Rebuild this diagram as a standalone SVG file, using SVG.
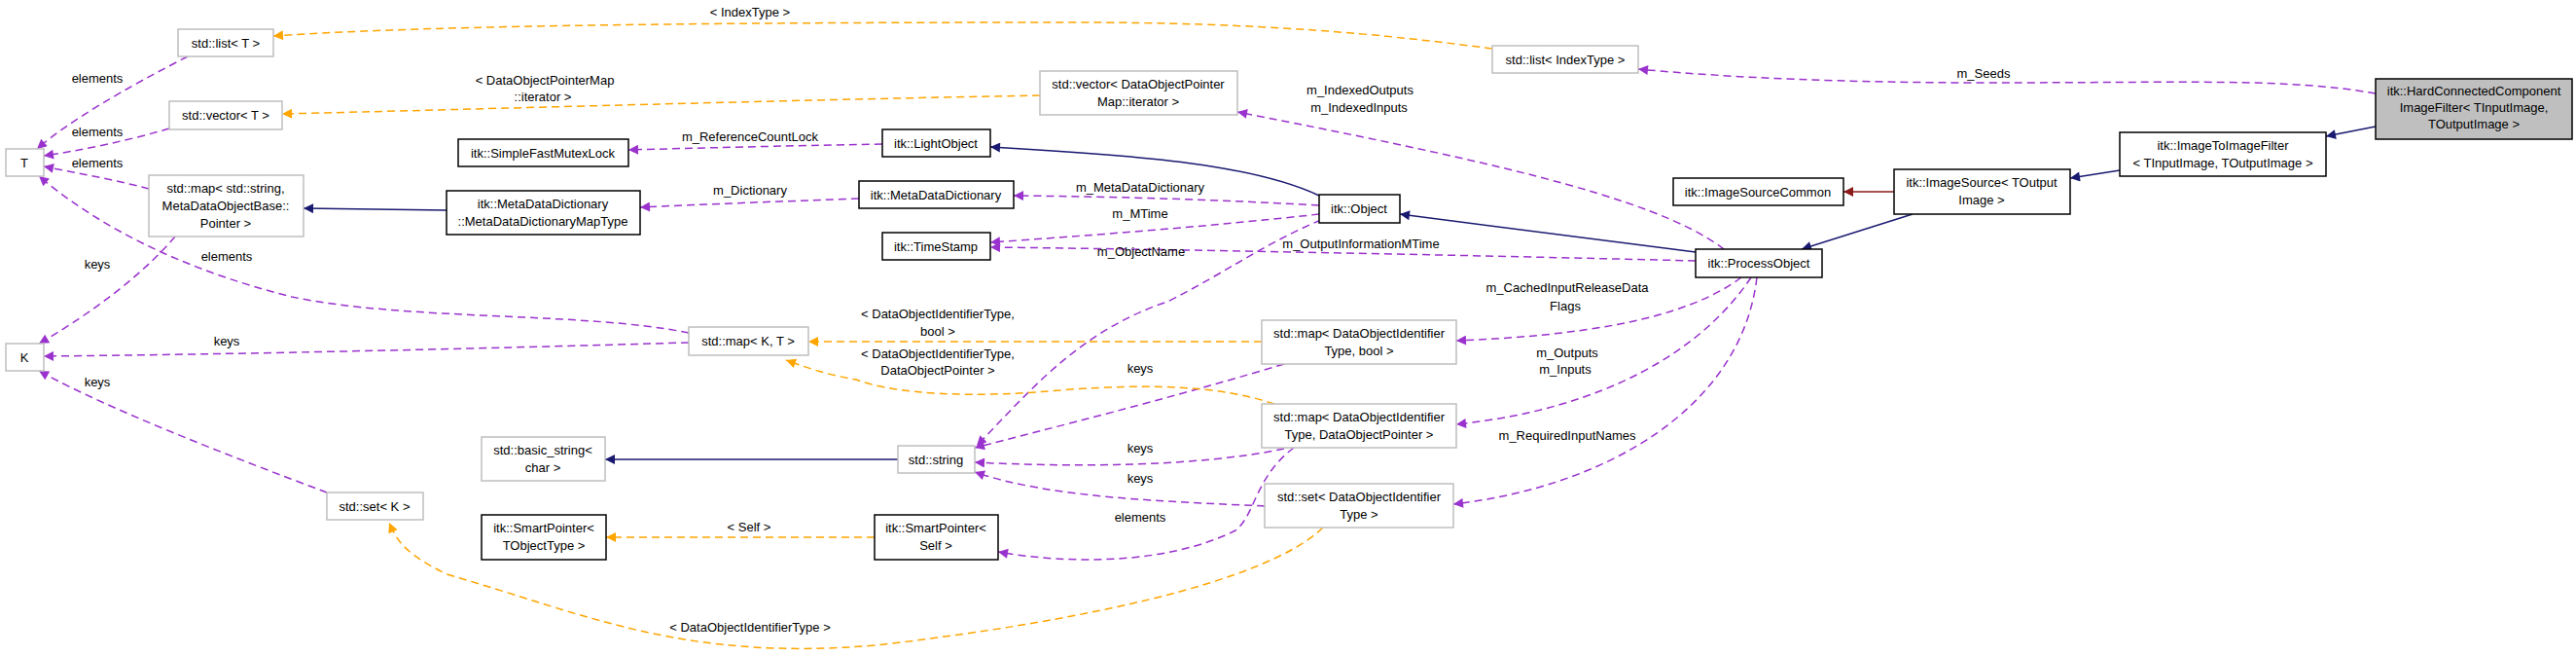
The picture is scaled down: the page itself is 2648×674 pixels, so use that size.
<svg xmlns="http://www.w3.org/2000/svg" width="2648" height="674" viewBox="0 0 2648 674">
<style>
text{font-family:"Liberation Sans",Arial,sans-serif;font-size:13px;fill:#000;text-anchor:middle}
.n{fill:#fff;stroke:#000;stroke-width:1.5}
.g{fill:#fff;stroke:#bfbfbf;stroke-width:1.5}
.h{fill:#bfbfbf;stroke:#000;stroke-width:1.5}
.e{fill:none;stroke-width:1.5}
.nv{stroke:#191970}
.rd{stroke:#8b1a1a}
.pu{stroke:#9a32cd;stroke-dasharray:8,5}
.or{stroke:#ffa500;stroke-dasharray:8,5}
</style>
<defs>
<marker id="anv" viewBox="0 0 10 10" refX="10" refY="5" markerWidth="14" markerHeight="10" markerUnits="userSpaceOnUse" orient="auto"><path d="M0,0L10,5L0,10z" fill="#191970"/></marker>
<marker id="ard" viewBox="0 0 10 10" refX="10" refY="5" markerWidth="14" markerHeight="10" markerUnits="userSpaceOnUse" orient="auto"><path d="M0,0L10,5L0,10z" fill="#8b1a1a"/></marker>
<marker id="apu" viewBox="0 0 10 10" refX="10" refY="5" markerWidth="14" markerHeight="10" markerUnits="userSpaceOnUse" orient="auto"><path d="M0,0L10,5L0,10z" fill="#9a32cd"/></marker>
<marker id="aor" viewBox="0 0 10 10" refX="10" refY="5" markerWidth="14" markerHeight="10" markerUnits="userSpaceOnUse" orient="auto"><path d="M0,0L10,5L0,10z" fill="#ffa500"/></marker>
</defs>
<rect width="2648" height="674" fill="#fff"/>
<g id="edges">
<path class="e nv" marker-end="url(#anv)" d="M2442,130L2391,140"/>
<path class="e nv" marker-end="url(#anv)" d="M2179,175L2128,183"/>
<path class="e rd" marker-end="url(#ard)" d="M1947,197L1895,197"/>
<path class="e nv" marker-end="url(#anv)" d="M1966,220L1852,256"/>
<path class="e nv" marker-end="url(#anv)" d="M1743,259L1439,220"/>
<path class="e nv" marker-end="url(#anv)" d="M1356,201C1290,170 1180,160 1018,151"/>
<path class="e nv" marker-end="url(#anv)" d="M459,216L312,214"/>
<path class="e nv" marker-end="url(#anv)" d="M923,472L622,472"/>
<path class="e pu" marker-end="url(#apu)" d="M2442,96C2350,80 2250,85 2040,85C1900,85 1780,80 1684,71"/>
<path class="e pu" marker-end="url(#apu)" d="M1356,211C1250,205 1150,202 1042,201"/>
<path class="e pu" marker-end="url(#apu)" d="M1356,220C1250,232 1120,242 1018,249"/>
<path class="e pu" marker-end="url(#apu)" d="M1743,268C1500,262 1200,256 1018,254"/>
<path class="e pu" marker-end="url(#apu)" d="M1358,226C1300,250 1260,280 1200,310C1110,340 1060,400 1004,458"/>
<path class="e pu" marker-end="url(#apu)" d="M1772,256C1700,200 1500,160 1272,115"/>
<path class="e pu" marker-end="url(#apu)" d="M1790,285C1730,330 1620,345 1497,350"/>
<path class="e pu" marker-end="url(#apu)" d="M1800,285C1750,360 1650,420 1497,436"/>
<path class="e pu" marker-end="url(#apu)" d="M1806,285C1790,420 1650,500 1494,518"/>
<path class="e pu" marker-end="url(#apu)" d="M907,148C800,150 720,152 646,154"/>
<path class="e pu" marker-end="url(#apu)" d="M883,204C800,207 720,210 658,213"/>
<path class="e pu" marker-end="url(#apu)" d="M193,58C130,90 70,125 38,153"/>
<path class="e pu" marker-end="url(#apu)" d="M174,132C130,145 80,155 45,160"/>
<path class="e pu" marker-end="url(#apu)" d="M153,194C120,185 80,178 45,171"/>
<path class="e pu" marker-end="url(#apu)" d="M708,342C600,320 420,330 300,305C200,280 110,240 40,181"/>
<path class="e pu" marker-end="url(#apu)" d="M180,243C140,290 80,330 40,353"/>
<path class="e pu" marker-end="url(#apu)" d="M708,352C500,358 250,364 45,366"/>
<path class="e pu" marker-end="url(#apu)" d="M336,506C240,470 110,420 40,381"/>
<path class="e pu" marker-end="url(#apu)" d="M1320,374C1200,410 1080,440 1002,460"/>
<path class="e pu" marker-end="url(#apu)" d="M1320,461C1230,480 1100,480 1002,475"/>
<path class="e pu" marker-end="url(#apu)" d="M1300,520C1200,515 1080,512 1002,485"/>
<path class="e pu" marker-end="url(#apu)" d="M1330,460C1290,490 1290,530 1270,545C1200,580 1100,580 1026,567"/>
<path class="e or" marker-end="url(#aor)" d="M1534,50C1420,35 1300,23 1100,23C800,23 450,25 281,37"/>
<path class="e or" marker-end="url(#aor)" d="M1069,98C800,103 500,112 290,117"/>
<path class="e or" marker-end="url(#aor)" d="M1297,351L831,351"/>
<path class="e or" marker-end="url(#aor)" d="M1310,415C1250,395 1180,395 1100,400C1000,410 920,405 880,390C850,385 830,378 808,370"/>
<path class="e or" marker-end="url(#aor)" d="M899,552L623,552"/>
<path class="e or" marker-end="url(#aor)" d="M1360,542C1300,600 1100,640 900,663C700,680 600,630 459,590C420,570 410,560 400,537"/>
</g>
<g id="edge-labels">
<text x="771" y="17">&lt; IndexType &gt;</text>
<text x="2039" y="80">m_Seeds</text>
<text x="560" y="87">&lt; DataObjectPointerMap</text>
<text x="558" y="104">::iterator &gt;</text>
<text x="1398" y="97">m_IndexedOutputs</text>
<text x="1397" y="115">m_IndexedInputs</text>
<text x="771" y="145">m_ReferenceCountLock</text>
<text x="771" y="200">m_Dictionary</text>
<text x="1172" y="197">m_MetaDataDictionary</text>
<text x="1172" y="224">m_MTime</text>
<text x="1399" y="255">m_OutputInformationMTime</text>
<text x="1173" y="263">m_ObjectName</text>
<text x="1611" y="300">m_CachedInputReleaseData</text>
<text x="1609" y="319">Flags</text>
<text x="964" y="327">&lt; DataObjectIdentifierType,</text>
<text x="964" y="345">bool &gt;</text>
<text x="964" y="368">&lt; DataObjectIdentifierType,</text>
<text x="964" y="385">DataObjectPointer &gt;</text>
<text x="1611" y="367">m_Outputs</text>
<text x="1609" y="384">m_Inputs</text>
<text x="1611" y="452">m_RequiredInputNames</text>
<text x="1172" y="383">keys</text>
<text x="1172" y="465">keys</text>
<text x="1172" y="496">keys</text>
<text x="1172" y="536">elements</text>
<text x="100" y="85">elements</text>
<text x="100" y="140">elements</text>
<text x="100" y="172">elements</text>
<text x="233" y="268">elements</text>
<text x="100" y="276">keys</text>
<text x="233" y="355">keys</text>
<text x="100" y="397">keys</text>
<text x="770" y="546">&lt; Self &gt;</text>
<text x="771" y="649">&lt; DataObjectIdentifierType &gt;</text>
</g>
<g id="hardconnected"><rect class="h" x="2442" y="81" width="202" height="62"/><text x="2543" y="98">itk::HardConnectedComponent</text><text x="2543" y="115">ImageFilter&lt; TInputImage,</text><text x="2543" y="132">TOutputImage &gt;</text></g>
<g id="imagetoimage"><rect class="n" x="2179" y="136" width="212" height="45"/><text x="2285" y="154">itk::ImageToImageFilter</text><text x="2285" y="172">&lt; TInputImage, TOutputImage &gt;</text></g>
<g id="imagesource"><rect class="n" x="1947" y="174" width="181" height="46"/><text x="2037" y="192">itk::ImageSource&lt; TOutput</text><text x="2037" y="210">Image &gt;</text></g>
<g id="imagesourcecommon"><rect class="n" x="1720" y="183" width="175" height="28"/><text x="1807" y="202">itk::ImageSourceCommon</text></g>
<g id="processobject"><rect class="n" x="1743" y="256" width="130" height="29"/><text x="1808" y="275">itk::ProcessObject</text></g>
<g id="object"><rect class="n" x="1356" y="200" width="83" height="29"/><text x="1397" y="219">itk::Object</text></g>
<g id="lightobject"><rect class="n" x="907" y="133" width="111" height="28"/><text x="962" y="152">itk::LightObject</text></g>
<g id="metadatadictionary"><rect class="n" x="883" y="186" width="159" height="28"/><text x="962" y="205">itk::MetaDataDictionary</text></g>
<g id="timestamp"><rect class="n" x="907" y="239" width="111" height="28"/><text x="962" y="258">itk::TimeStamp</text></g>
<g id="listindextype"><rect class="g" x="1534" y="47" width="150" height="28"/><text x="1609" y="66">std::list&lt; IndexType &gt;</text></g>
<g id="vectordop"><rect class="g" x="1069" y="73" width="203" height="45"/><text x="1170" y="91">std::vector&lt; DataObjectPointer</text><text x="1170" y="109">Map::iterator &gt;</text></g>
<g id="mapbool"><rect class="g" x="1297" y="329" width="200" height="45"/><text x="1397" y="347">std::map&lt; DataObjectIdentifier</text><text x="1397" y="365">Type, bool &gt;</text></g>
<g id="mapdop"><rect class="g" x="1297" y="415" width="200" height="45"/><text x="1397" y="433">std::map&lt; DataObjectIdentifier</text><text x="1397" y="451">Type, DataObjectPointer &gt;</text></g>
<g id="setdoit"><rect class="g" x="1300" y="497" width="194" height="45"/><text x="1397" y="515">std::set&lt; DataObjectIdentifier</text><text x="1397" y="533">Type &gt;</text></g>
<g id="stdstring"><rect class="g" x="923" y="458" width="79" height="28"/><text x="962" y="477">std::string</text></g>
<g id="smartpointerself"><rect class="n" x="899" y="529" width="127" height="46"/><text x="962" y="547">itk::SmartPointer&lt;</text><text x="962" y="565">Self &gt;</text></g>
<g id="smartpointertobj"><rect class="n" x="495" y="529" width="128" height="46"/><text x="559" y="547">itk::SmartPointer&lt;</text><text x="559" y="565">TObjectType &gt;</text></g>
<g id="basicstring"><rect class="g" x="495" y="449" width="127" height="45"/><text x="558" y="467">std::basic_string&lt;</text><text x="558" y="485">char &gt;</text></g>
<g id="mutexlock"><rect class="n" x="471" y="143" width="175" height="28"/><text x="558" y="162">itk::SimpleFastMutexLock</text></g>
<g id="mdmaptype"><rect class="n" x="459" y="196" width="199" height="45"/><text x="558" y="214">itk::MetaDataDictionary</text><text x="558" y="232">::MetaDataDictionaryMapType</text></g>
<g id="mapkt"><rect class="g" x="708" y="336" width="123" height="29"/><text x="769" y="355">std::map&lt; K, T &gt;</text></g>
<g id="mapstring"><rect class="g" x="153" y="180" width="159" height="63"/><text x="232" y="198">std::map&lt; std::string,</text><text x="232" y="216">MetaDataObjectBase::</text><text x="232" y="234">Pointer &gt;</text></g>
<g id="listt"><rect class="g" x="183" y="30" width="98" height="28"/><text x="232" y="49">std::list&lt; T &gt;</text></g>
<g id="vectort"><rect class="g" x="174" y="104" width="116" height="29"/><text x="232" y="123">std::vector&lt; T &gt;</text></g>
<g id="setk"><rect class="g" x="336" y="506" width="99" height="28"/><text x="385" y="525">std::set&lt; K &gt;</text></g>
<g id="t"><rect class="g" x="6" y="153" width="39" height="28"/><text x="25" y="172">T</text></g>
<g id="k"><rect class="g" x="6" y="353" width="39" height="28"/><text x="25" y="372">K</text></g>
</svg>
